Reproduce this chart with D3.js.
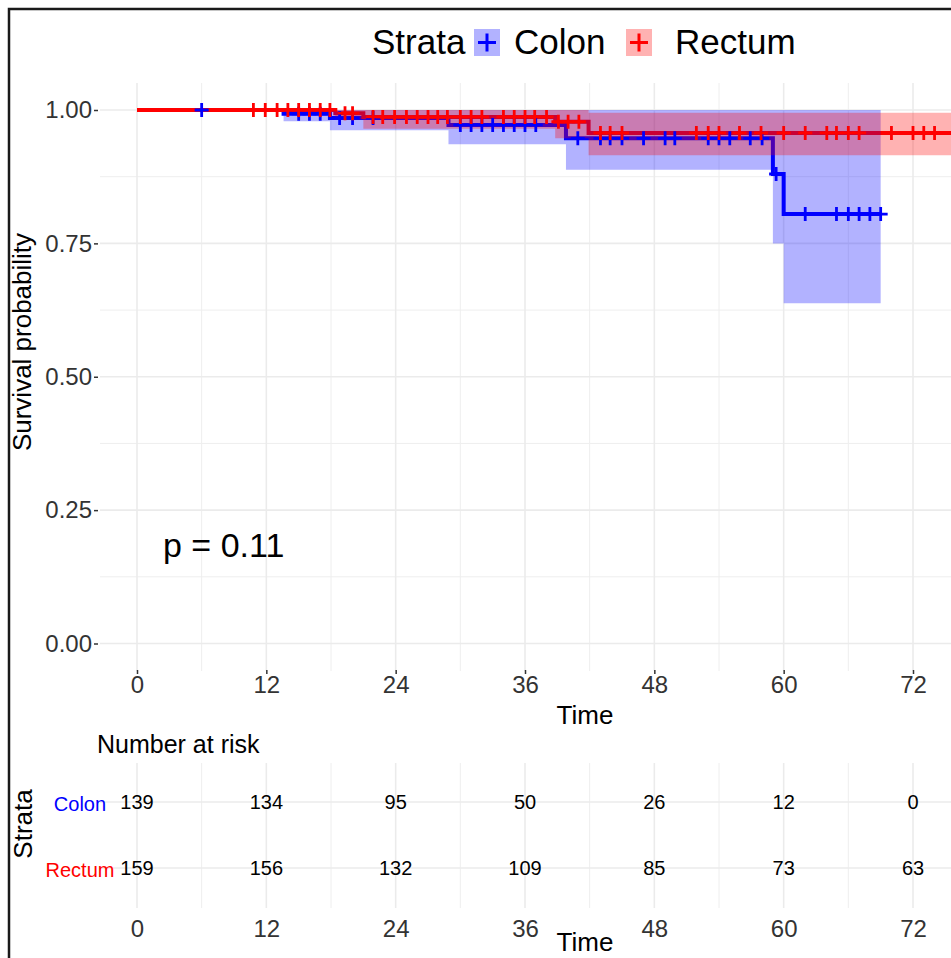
<!DOCTYPE html>
<html>
<head>
<meta charset="utf-8">
<script src="https://cdn.jsdelivr.net/npm/d3@7"></script>
<style>
  body { margin: 0; background: #fff; }
  text { font-family: "Liberation Sans", Arial, sans-serif; }
</style>
</head>
<body>
<script>
// tick labels
const timeTicks = [0, 12, 24, 36, 48, 60, 72];
const survTicks = [0, 0.25, 0.5, 0.75, 1];
const strata = ["Colon", "Rectum"];

// Colon KM steps
const colonTime  = [0, 13.6, 17.9, 28.9, 39.8, 59, 60];
const colonSurv  = [1, 0.993, 0.985, 0.972, 0.947, 0.88, 0.805];
const colonLower = [1, 0.979, 0.962, 0.936, 0.888, 0.75, 0.638];
const colonUpper = [1, 1, 1, 1, 1, 1, 1];
const colonEnd = 69;
const colonCensor = [6, 15, 16, 17, 18.8, 20, 21.9, 30, 31, 32, 33, 34, 35, 36, 37,
  40.9, 43, 43.9, 45, 47, 49, 49.9, 53, 54, 55, 56.9, 58, 59.3, 62, 64.9, 66, 67, 68, 69];

// Rectum KM steps
const rectumTime  = [0, 18.4, 21, 38.8, 41.9];
const rectumSurv  = [1, 0.994, 0.987, 0.978, 0.957];
const rectumLower = [1, 0.982, 0.965, 0.947, 0.915];
const rectumUpper = [1, 1, 1, 1, 0.995];
const rectumEnd = 80;
const rectumCensor = [10.8, 11.9, 13, 14, 15, 16, 17, 17.9, 19.3, 20, 21.9, 22.8, 23.9, 25, 26, 27,
  27.9, 28.8, 30, 31, 32, 34, 35, 36, 36.9, 38, 39.1, 40, 41, 43, 43.9, 45, 51.9, 53, 54,
  55.9, 57.9, 60, 62, 64, 64.9, 66, 67, 70, 72, 73, 74];

// number at risk
const riskColon  = [139, 134, 95, 50, 26, 12, 0];
const riskRectum = [159, 156, 132, 109, 85, 73, 63];

const colors = { Colon: "#0000ff", Rectum: "#ff0000" };

const W = 951, H = 958;
const svg = d3.select("body").append("svg").attr("width", W).attr("height", H);
svg.append("rect").attr("width", W).attr("height", H).attr("fill", "#fff");

// main panel
const panel = { left: 100, top: 83, right: 951, bottom: 671 };
const x = d3.scaleLinear().domain([0, 72]).range([137, 913]);
const y = d3.scaleLinear().domain([0, 1]).range([643.5, 110]);

svg.append("clipPath").attr("id", "clip")
  .append("rect")
  .attr("x", panel.left).attr("y", panel.top)
  .attr("width", panel.right - panel.left).attr("height", panel.bottom - panel.top);

const grid = svg.append("g");
const minorX = d3.range(6, 84, 12);
const minorY = [0.125, 0.375, 0.625, 0.875];

grid.selectAll(".vminor").data(minorX).join("line")
  .attr("x1", d => x(d)).attr("x2", d => x(d))
  .attr("y1", panel.top).attr("y2", panel.bottom)
  .attr("stroke", "#eeeeee").attr("stroke-width", 1);
grid.selectAll(".hminor").data(minorY).join("line")
  .attr("x1", panel.left).attr("x2", panel.right)
  .attr("y1", d => y(d)).attr("y2", d => y(d))
  .attr("stroke", "#eeeeee").attr("stroke-width", 1);
grid.selectAll(".vmajor").data(timeTicks).join("line")
  .attr("x1", d => x(d)).attr("x2", d => x(d))
  .attr("y1", panel.top).attr("y2", panel.bottom)
  .attr("stroke", "#ebebeb").attr("stroke-width", 1.6);
grid.selectAll(".hmajor").data(survTicks).join("line")
  .attr("x1", panel.left).attr("x2", panel.right)
  .attr("y1", d => y(d)).attr("y2", d => y(d))
  .attr("stroke", "#ebebeb").attr("stroke-width", 1.6);

// helpers
function stepAt(times, vals, t) {
  let v = vals[0];
  for (let i = 0; i < times.length; i++) if (times[i] <= t) v = vals[i];
  return v;
}
function steps(times, surv, lower, upper, end) {
  const pts = times.map((t, i) => ({ t: t, s: surv[i], lo: lower[i], hi: upper[i] }));
  const last = pts[pts.length - 1];
  pts.push({ t: end, s: last.s, lo: last.lo, hi: last.hi });
  return pts;
}

const series = [
  { name: "Colon", pts: steps(colonTime, colonSurv, colonLower, colonUpper, colonEnd),
    censor: colonCensor.map(t => ({ t: t, s: stepAt(colonTime, colonSurv, t) })) },
  { name: "Rectum", pts: steps(rectumTime, rectumSurv, rectumLower, rectumUpper, rectumEnd),
    censor: rectumCensor.map(t => ({ t: t, s: stepAt(rectumTime, rectumSurv, t) })) }
];

const plot = svg.append("g").attr("clip-path", "url(#clip)");

const line = d3.line().curve(d3.curveStepAfter).x(d => x(d.t)).y(d => y(d.s));
const area = d3.area().curve(d3.curveStepAfter)
  .x(d => x(d.t)).y0(d => y(d.lo)).y1(d => y(d.hi));

// lines first, then ribbons, then censor marks (ggsurvplot order)
plot.selectAll(".km").data(series).join("path")
  .attr("d", d => line(d.pts))
  .attr("fill", "none")
  .attr("stroke", d => colors[d.name])
  .attr("stroke-width", 4);

plot.selectAll(".band").data(series).join("path")
  .attr("d", d => area(d.pts))
  .attr("fill", d => colors[d.name])
  .attr("fill-opacity", 0.3);

const plus = "M-7,0H7M0,-7V7";
series.forEach(sr => {
  plot.append("g").selectAll("path").data(sr.censor).join("path")
    .attr("transform", d => `translate(${x(d.t)},${y(d.s)})`)
    .attr("d", plus)
    .attr("fill", "none")
    .attr("stroke", colors[sr.name])
    .attr("stroke-width", 2.8);
});

// axes
const yAxis = svg.append("g").attr("transform", `translate(${panel.left - 2},0)`)
  .call(d3.axisLeft(y).tickValues(survTicks).tickFormat(d3.format(".2f")).tickSize(4).tickPadding(2));
yAxis.select(".domain").remove();
yAxis.selectAll("line").attr("stroke", "#333").attr("stroke-width", 1.5);
yAxis.selectAll("text").attr("font-size", 24).attr("fill", "#333")
  .attr("font-family", "Liberation Sans, Arial, sans-serif");

const xAxis = svg.append("g").attr("transform", `translate(0,${panel.bottom - 1})`)
  .call(d3.axisBottom(x).tickValues(timeTicks).tickSize(4).tickPadding(2));
xAxis.select(".domain").remove();
xAxis.selectAll("line").attr("stroke", "#333").attr("stroke-width", 1.5);
xAxis.selectAll("text").attr("font-size", 24).attr("fill", "#333")
  .attr("font-family", "Liberation Sans, Arial, sans-serif");

svg.append("text").attr("x", 585).attr("y", 724).attr("text-anchor", "middle")
  .attr("font-size", 26).attr("fill", "#000").text("Time");
svg.append("text").attr("transform", "translate(31,342) rotate(-90)")
  .attr("text-anchor", "middle").attr("font-size", 26).attr("fill", "#000")
  .text("Survival probability");

svg.append("text").attr("x", 163).attr("y", 557)
  .attr("font-size", 34).attr("fill", "#000").text("p = 0.11");

// legend
const legend = svg.append("g");
legend.append("text").attr("x", 372).attr("y", 54).attr("font-size", 35).text("Strata");
const keys = [
  { name: "Colon", kx: 474, tx: 514 },
  { name: "Rectum", kx: 626, tx: 675 }
];
const key = legend.selectAll(".key").data(keys).join("g")
  .attr("transform", d => `translate(${d.kx},29)`);
key.append("rect").attr("width", 26).attr("height", 27)
  .attr("fill", d => colors[d.name]).attr("fill-opacity", 0.3);
key.append("path").attr("d", "M4,13.5H22M13,4.5V22.5")
  .attr("stroke", d => colors[d.name]).attr("stroke-width", 3);
legend.selectAll(".ltext").data(keys).join("text")
  .attr("x", d => d.tx).attr("y", 54).attr("font-size", 35).text(d => d.name);

// risk table
const risk = { top: 763, bottom: 908 };
const ry = d3.scalePoint().domain(strata).range([802, 868]);
const riskData = [
  { name: "Colon", vals: riskColon },
  { name: "Rectum", vals: riskRectum }
];

svg.append("text").attr("x", 97).attr("y", 753).attr("font-size", 25).text("Number at risk");

const rg = svg.append("g");
rg.selectAll(".rvminor").data(minorX).join("line")
  .attr("x1", d => x(d)).attr("x2", d => x(d))
  .attr("y1", risk.top).attr("y2", risk.bottom)
  .attr("stroke", "#eeeeee").attr("stroke-width", 1);
rg.selectAll(".rvmajor").data(timeTicks).join("line")
  .attr("x1", d => x(d)).attr("x2", d => x(d))
  .attr("y1", risk.top).attr("y2", risk.bottom)
  .attr("stroke", "#ebebeb").attr("stroke-width", 1.6);
rg.selectAll(".rh").data(strata).join("line")
  .attr("x1", panel.left).attr("x2", panel.right)
  .attr("y1", d => ry(d)).attr("y2", d => ry(d))
  .attr("stroke", "#ebebeb").attr("stroke-width", 1.6);

riskData.forEach(r => {
  svg.append("g").selectAll("text").data(r.vals).join("text")
    .attr("x", (d, i) => x(timeTicks[i]))
    .attr("y", ry(r.name))
    .attr("dy", "0.36em")
    .attr("text-anchor", "middle")
    .attr("font-size", 20)
    .text(d => d);
});

svg.selectAll(".rlab").data(strata).join("text")
  .attr("x", 80).attr("y", d => ry(d) + 2).attr("dy", "0.36em")
  .attr("text-anchor", "middle").attr("font-size", 20)
  .attr("fill", d => colors[d]).text(d => d);

const rxAxis = svg.append("g").attr("transform", `translate(0,${risk.bottom})`)
  .call(d3.axisBottom(x).tickValues(timeTicks).tickSize(0).tickPadding(12));
rxAxis.select(".domain").remove();
rxAxis.selectAll("text").attr("font-size", 24).attr("fill", "#333")
  .attr("font-family", "Liberation Sans, Arial, sans-serif");

svg.append("text").attr("x", 585).attr("y", 951).attr("text-anchor", "middle")
  .attr("font-size", 26).text("Time");
svg.append("text").attr("transform", "translate(32,824) rotate(-90)")
  .attr("text-anchor", "middle").attr("font-size", 26).text("Strata");

// outer frame (cropped on the right and bottom)
svg.append("path").attr("d", `M9,${H}V9H${W}`)
  .attr("fill", "none").attr("stroke", "#1a1a1a").attr("stroke-width", 2.5);
</script>
</body>
</html>
